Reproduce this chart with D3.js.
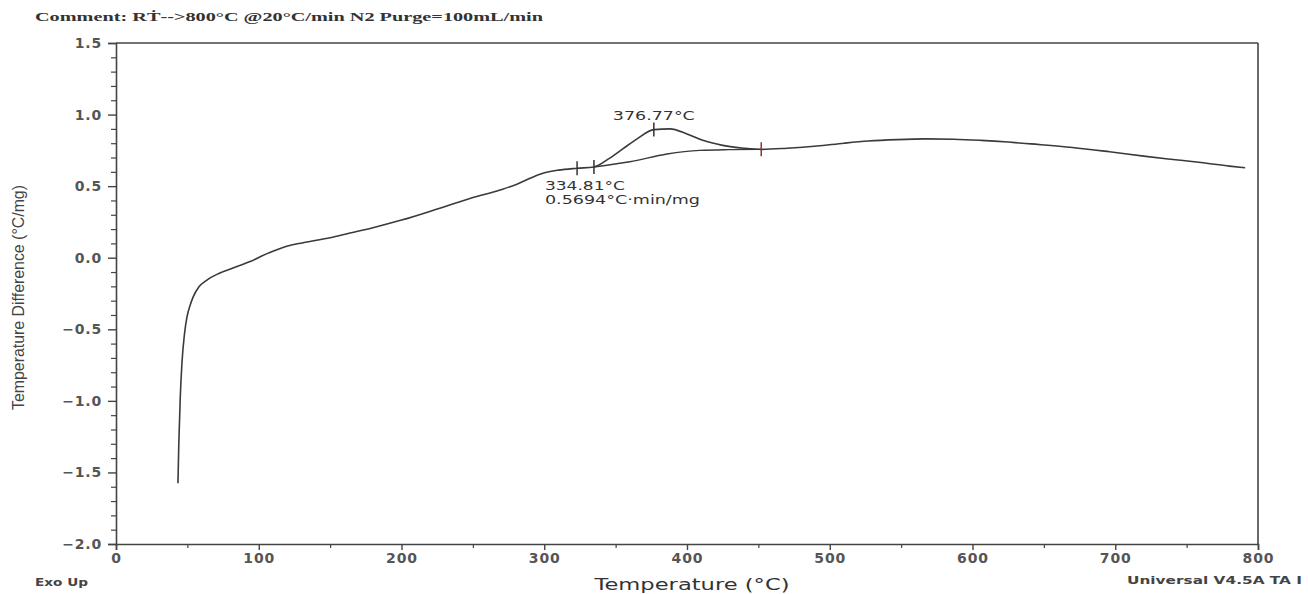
<!DOCTYPE html>
<html><head><meta charset="utf-8">
<script src="https://cdn.jsdelivr.net/npm/d3@7"></script>
<style>
html,body{margin:0;padding:0;background:#fff;}
svg{display:block;}
</style></head>
<body>
<svg id="chart" width="1308" height="594"></svg>
<script>
// ---- data ----
const temps = [43.4, 44.0, 45.0, 46.2, 48.0, 49.7, 52.0, 54.0, 58.0, 63.7, 72, 82, 94, 105, 117, 131, 150, 164, 180, 200, 225, 249, 269, 280, 290, 299, 310, 323, 334.81,
  345, 355, 365, 376.77, 388, 400, 411, 425, 440, 452, 470, 491, 510, 527, 547, 567, 587, 606, 625, 641, 670, 696, 720, 737, 760, 780, 791];
const tempDiff = [-1.575, -1.30, -0.98, -0.735, -0.53, -0.415, -0.33, -0.275, -0.205, -0.156, -0.11, -0.072, -0.027, 0.025, 0.072, 0.105, 0.14, 0.173, 0.21, 0.263, 0.34, 0.417, 0.473, 0.51, 0.555, 0.59, 0.612, 0.625, 0.634,
  0.69, 0.76, 0.83, 0.895, 0.90, 0.865, 0.82, 0.785, 0.765, 0.757, 0.765, 0.78, 0.80, 0.815, 0.825, 0.83, 0.828, 0.82, 0.808, 0.795, 0.77, 0.74, 0.71, 0.69, 0.665, 0.64, 0.628];

const baselineTemps = [334.81, 360, 386, 409, 430, 452];
const baselineValues = [0.634, 0.67, 0.725, 0.75, 0.755, 0.757];

const markerTemps = [323, 334.81, 376.77, 452];
const markerValues = [0.625, 0.634, 0.895, 0.757];
const markerColors = ["#333", "#333", "#333", "#9a3030"];

const yTicks = [-2.0, -1.5, -1.0, -0.5, 0.0, 0.5, 1.0, 1.5];
const xTicks = [0, 100, 200, 300, 400, 500, 600, 700, 800];

const commentText = "Comment: RT\u0307-->800°C @20°C/min N2 Purge=100mL/min";
const peakLabel = "376.77°C";
const onsetLabel = "334.81°C";
const areaLabel = "0.5694°C·min/mg";

// ---- drawing ----
const svg = d3.select("#chart");
const x = d3.scaleLinear().domain([0, 800]).range([116, 1258]);
const y = d3.scaleLinear().domain([-2, 1.5]).range([544, 43]);
const axisColor = "#444";

// frame: top & right
svg.append("line").attr("x1", x(0)).attr("x2", x(800)).attr("y1", y(1.5)).attr("y2", y(1.5))
  .attr("stroke", axisColor).attr("stroke-width", 1.6);
svg.append("line").attr("x1", x(800)).attr("x2", x(800)).attr("y1", y(1.5)).attr("y2", y(-2))
  .attr("stroke", axisColor).attr("stroke-width", 1.6);

// left axis minor
const yMinor = d3.range(-20, 16).map(d => d / 10).filter(v => Math.abs(v * 2 - Math.round(v * 2)) > 1e-6);
svg.append("g").attr("transform", `translate(${x(0)},0)`)
  .call(d3.axisLeft(y).tickValues(yMinor).tickSize(5).tickFormat(""))
  .call(g => g.select(".domain").remove())
  .call(g => g.selectAll("line").attr("stroke", axisColor).attr("stroke-width", 1.2));
// left axis major
svg.append("g").attr("transform", `translate(${x(0)},0)`)
  .call(d3.axisLeft(y).tickValues(yTicks).tickSize(8).tickPadding(6).tickFormat(d3.format(".1f")))
  .call(g => g.select(".domain").attr("stroke", axisColor).attr("stroke-width", 1.6))
  .call(g => g.selectAll("line").attr("stroke", axisColor).attr("stroke-width", 1.4))
  .call(g => g.selectAll("text").attr("font-family", "'DejaVu Sans', sans-serif")
      .attr("font-size", 14).attr("font-weight", "bold").attr("fill", "#555")
      .attr("letter-spacing", "0.8px"));

// bottom axis minor
const xMinor = d3.range(50, 800, 100);
svg.append("g").attr("transform", `translate(0,${y(-2)})`)
  .call(d3.axisBottom(x).tickValues(xMinor).tickSize(4).tickFormat(""))
  .call(g => g.select(".domain").remove())
  .call(g => g.selectAll("line").attr("stroke", axisColor).attr("stroke-width", 1.2));
svg.append("g").attr("transform", `translate(0,${y(-2)})`)
  .call(d3.axisBottom(x).tickValues(xTicks).tickSize(6).tickPadding(3).tickFormat(d3.format("d")))
  .call(g => g.select(".domain").attr("stroke", axisColor).attr("stroke-width", 1.6))
  .call(g => g.selectAll("line").attr("stroke", axisColor).attr("stroke-width", 1.4))
  .call(g => g.selectAll("text").attr("font-family", "'DejaVu Sans', sans-serif")
      .attr("font-size", 14).attr("font-weight", "bold").attr("fill", "#555")
      .attr("letter-spacing", "1px"));

// curve
const line = d3.line().x(d => x(d[0])).y(d => y(d[1])).curve(d3.curveMonotoneX);
svg.append("path").datum(temps.map((t, i) => [t, tempDiff[i]]))
  .attr("d", line).attr("fill", "none").attr("stroke", "#3a3a3a").attr("stroke-width", 1.6);
svg.append("path").datum(baselineTemps.map((t, i) => [t, baselineValues[i]]))
  .attr("d", line).attr("fill", "none").attr("stroke", "#3a3a3a").attr("stroke-width", 1.4);

// markers
svg.selectAll(".mk").data(markerTemps).enter().append("line")
  .attr("x1", d => x(d)).attr("x2", d => x(d))
  .attr("y1", (d, i) => y(markerValues[i]) - 7).attr("y2", (d, i) => y(markerValues[i]) + 7)
  .attr("stroke", (d, i) => markerColors[i]).attr("stroke-width", 1.5);

// annotations
const annFont = "'DejaVu Sans', sans-serif";
svg.append("text").attr("x", x(376.77)).attr("y", y(0.895) - 10).attr("text-anchor", "middle")
  .attr("font-family", annFont).attr("font-size", 13).attr("fill", "#333")
  .attr("textLength", 82).attr("lengthAdjust", "spacingAndGlyphs").text(peakLabel);
svg.append("text").attr("x", x(300.5)).attr("y", y(0.634) + 23)
  .attr("font-family", annFont).attr("font-size", 13).attr("fill", "#333")
  .attr("textLength", 80).attr("lengthAdjust", "spacingAndGlyphs").text(onsetLabel);
svg.append("text").attr("x", x(300.5)).attr("y", y(0.634) + 37)
  .attr("font-family", annFont).attr("font-size", 13).attr("fill", "#333")
  .attr("textLength", 155).attr("lengthAdjust", "spacingAndGlyphs").text(areaLabel);

// titles
svg.append("text").attr("x", 35).attr("y", 21)
  .attr("font-family", "'Liberation Serif', serif").attr("font-size", 13).attr("font-weight", "bold")
  .attr("fill", "#333").attr("textLength", 508).attr("lengthAdjust", "spacingAndGlyphs").text(commentText);

svg.append("text").attr("transform", `translate(24,${(185 + 410) / 2}) rotate(-90)`)
  .attr("text-anchor", "middle")
  .attr("font-family", "'Liberation Sans Narrow', 'Liberation Sans', sans-serif").attr("font-size", 17)
  .attr("fill", "#444").attr("textLength", 225).attr("lengthAdjust", "spacingAndGlyphs")
  .text("Temperature Difference (°C/mg)");

svg.append("text").attr("x", 692).attr("y", 590).attr("text-anchor", "middle")
  .attr("font-family", "'DejaVu Sans', sans-serif").attr("font-size", 16)
  .attr("fill", "#333").attr("textLength", 195).attr("lengthAdjust", "spacingAndGlyphs")
  .text("Temperature (°C)");

svg.append("text").attr("x", 35).attr("y", 586)
  .attr("font-family", "'DejaVu Sans', sans-serif").attr("font-size", 11).attr("font-weight", "bold")
  .attr("fill", "#444").attr("textLength", 53).attr("lengthAdjust", "spacingAndGlyphs").text("Exo Up");

svg.append("text").attr("x", 1127).attr("y", 584)
  .attr("font-family", "'DejaVu Sans', sans-serif").attr("font-size", 11).attr("font-weight", "bold")
  .attr("fill", "#444").attr("textLength", 175).attr("lengthAdjust", "spacingAndGlyphs")
  .text("Universal V4.5A TA I");
</script>
</body></html>
